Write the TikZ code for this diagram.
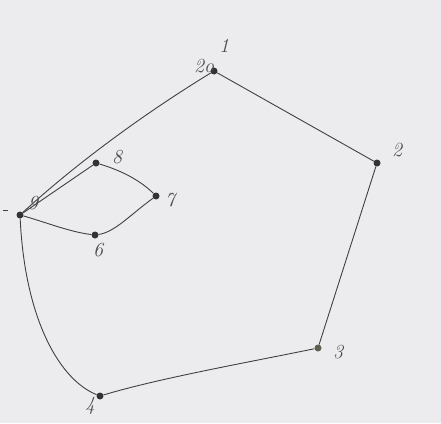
\documentclass[tikz,border=0pt]{standalone}
\begin{document}
\begin{tikzpicture}[x=1pt,y=-1pt,
  pt/.style={circle,fill=black!80,inner sep=0pt,minimum size=7pt},
  edge/.style={draw=black!75,line width=0.9pt},
  lab/.style={font=\fontsize{20}{20}\selectfont\itshape,text=black!70}]
\fill[fill={rgb,255:red,236;green,236;blue,238}] (0,0) rectangle (441,423);
\useasboundingbox (0,0) rectangle (441,423);
\node[pt] (n1) at (214,71) {};
\node[pt] (n2) at (377,163) {};
\node[pt,fill={rgb,255:red,95;green,95;blue,80}] (n3) at (318,348) {};
\node[pt] (n4) at (100,396) {};
\node[pt] (n9) at (20,215) {};
\node[pt] (n8) at (96,163) {};
\node[pt] (n7) at (156,196) {};
\node[pt] (n6) at (95,235) {};
\draw[edge] (n1) -- (n2);
\draw[edge] (n2) -- (n3);
\draw[edge] (n3) .. controls (250,362) and (160,378) .. (n4);
\draw[edge] (n4) .. controls (60,380) and (25,320) .. (n9);
\draw[edge] (n9) .. controls (80,160) and (150,110) .. (n1);
\draw[edge] (n9) -- (n8);
\draw[edge] (n8) .. controls (120,170) and (140,180) .. (n7);
\draw[edge] (n7) .. controls (130,215) and (115,232) .. (n6);
\draw[edge] (n6) .. controls (70,232) and (45,222) .. (n9);
\node[lab] (l1) at (224,46) {1};
\node[lab] (l20) at (204,66) {2o};
\node[lab] (l2) at (397,150) {2};
\node[lab] (l3) at (338,352) {3};
\node[lab] (l4) at (90,406) {4};
\node[lab] (l8) at (117,157) {8};
\node[lab] (l7) at (170,200) {7};
\node[lab] (l6) at (98,250) {6};
\node[lab] (l9) at (33,203) {9};
\coordinate (d1) at (3,210);
\coordinate (d2) at (8,210);
\draw[edge] (d1) -- (d2);
\end{tikzpicture}
\end{document}
